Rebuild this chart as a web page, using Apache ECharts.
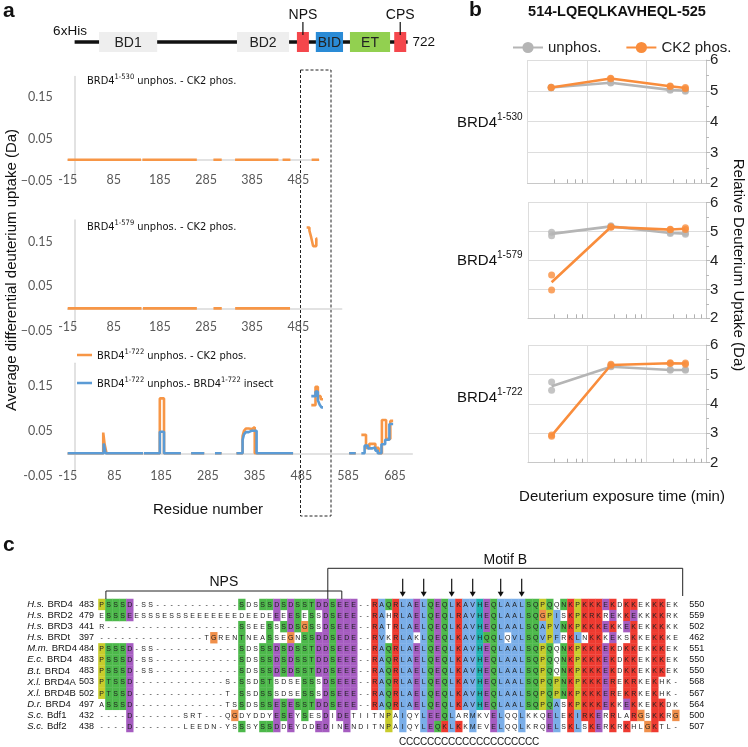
<!DOCTYPE html>
<html>
<head>
<meta charset="utf-8">
<title>BRD4 CK2 phosphorylation HDX</title>
<script src="https://cdn.jsdelivr.net/npm/echarts@6.0.0/dist/echarts.min.js"></script>
<style>
  html, body { margin: 0; padding: 0; background: #ffffff; }
  #main { width: 748px; height: 747px; }
</style>
</head>
<body>
<div id="main"></div>
<script>
// ---------------- data ----------------
// panel a, domain map (residue numbers)
var proteinLength = 722;
var domainNames = ['BD1', 'BD2', 'NPS', 'BID', 'ET', 'CPS'];
var domainStart = [53, 352, 482, 523, 597, 693];
var domainEnd = [179, 465, 508, 582, 684, 719];

// constructs
var constructs = ['1-530', '1-579', '1-722'];
var residueMax = [530, 579, 722];

// panel a: differential uptake, segments of [residue, Da] (held until next residue)
var a530Ck2 = [
  [[-15, 0], [144, 0]], [[147, 0], [265, 0]], [[301, 0], [319, 0]],
  [[348, 0], [442, 0]], [[451, 0], [468, 0]], [[514, 0], [530, 0]]
];
var a579Ck2 = [
  [[-15, 0], [145, 0]], [[148, 0], [265, 0]], [[301, 0], [319, 0]], [[348, 0], [467, 0]],
  [[503, 0.183], [509, 0.176], [513, 0.16], [517, 0.141], [524, 0.158], [526, 0.158]]
];
var a722Ck2 = [
  [[-15, 0], [61, 0.046], [64, 0.02], [68, 0], [146, 0]],
  [[148, 0], [182, 0.122], [191, 0], [227, 0]],
  [[249, 0], [277, 0]],
  [[300, 0], [314, 0]],
  [[346, 0], [359, 0.038], [362, 0.05], [366, 0.055], [372, 0.058], [376, 0.054], [379, 0.058], [385, 0], [467, 0]],
  [[506, 0.107], [515, 0.148], [520, 0.127], [526, 0.12], [531, 0.12]],
  [[587, 0], [601, 0]],
  [[613, 0.041], [623, 0.012], [630, 0.021], [643, 0.012], [650, 0], [657, 0.074], [666, 0.032], [675, 0.072], [681, 0.072]]
];
var a722Insect = [
  [[-15, 0], [62, 0.022], [66, 0], [146, 0]],
  [[148, 0], [182, 0.048], [191, 0], [227, 0]],
  [[249, 0], [277, 0]],
  [[300, 0], [314, 0]],
  [[346, 0], [359, 0.03], [362, 0.042], [366, 0.047], [372, 0.05], [378, 0.047], [381, 0.05], [389, 0], [467, 0]],
  [[506, 0.127], [515, 0.137], [520, 0.118], [524, 0.108], [528, 0.102], [531, 0.102]],
  [[587, 0], [601, 0]],
  [[613, 0], [620, 0.017], [627, 0.011], [637, 0.013], [643, 0.006], [648, 0], [656, 0.02], [664, 0.03], [673, 0.065], [681, 0.065]]
];

// panel b: 514-LQEQLKAVHEQL-525 uptake vs exposure time (min)
var times = [0.25, 2.5, 25, 45];
var b530Unphos = [5.11, 5.26, 5.03, 5.0];
var b530UnphosReps = [[5.10, 5.12], [5.25, 5.27], [5.02, 5.04], [4.99, 5.01]];
var b530Ck2 = [5.11, 5.40, 5.15, 5.09];
var b530Ck2Reps = [[5.10, 5.12], [5.39, 5.41], [5.14, 5.16], [5.07, 5.11]];
var b579Unphos = [4.92, 5.18, 4.95, 4.93];
var b579UnphosReps = [[4.98, 4.86], [5.17, 5.20], [4.93, 4.97], [4.91, 4.95]];
var b579Ck2 = [3.25, 5.16, 5.07, 5.10];
var b579Ck2Reps = [[3.50, 2.98], [5.15, 5.17], [5.06, 5.08], [5.07, 5.13]];
var b722Unphos = [4.60, 5.26, 5.15, 5.15];
var b722UnphosReps = [[4.74, 4.46], [5.26, 5.28], [5.14, 5.17], [5.14, 5.17]];
var b722Ck2 = [2.92, 5.32, 5.38, 5.37];
var b722Ck2Reps = [[2.90, 2.94], [5.31, 5.35], [5.37, 5.40], [5.35, 5.39]];

// panel c: alignment
var species = ['H.s.', 'H.s.', 'H.s.', 'H.s.', 'M.m.', 'E.c.', 'B.t.', 'X.l.', 'X.l.', 'D.r.', 'S.c.', 'S.c.'];
var proteins = ['BRD4', 'BRD2', 'BRD3', 'BRDt', 'BRD4', 'BRD4', 'BRD4', 'BRD4A', 'BRD4B', 'BRD4', 'Bdf1', 'Bdf2'];
var startNum = [483, 479, 441, 397, 484, 483, 483, 503, 502, 497, 432, 438];
var endNum = [550, 559, 502, 462, 551, 550, 550, 568, 567, 564, 500, 507];
var sequences = [
  'PSSSD-SS------------SDSSSDSDSSTDDSEEE--RAQRLAELQEQLKAVHEQLAALSQPQQNKPKKKEKDKKEKKKEK',
  'ESSSEESSSESSSEEEEEEEDEEDEEEESESSDSEEE--RAHRLAELQEQLRAVHEQLAALSQGPISKPKRKREKKEKKKKRK',
  'R-------------------SSEESSSDSGSSDSEEE--RATRLAELQEQLKAVHEQLAALSQAPVNKPKKKEKKEKEKKKKK',
  '---------------TGRENTNEASSEGNSSDDSEDE--RVKRLAKLQEQLKAVHQQLQVLSQVPFRKLNKKKEKSKKEKKKE',
  'PSSSD-SS------------SDSSSDSDSSTDDSEEE--RAQRLAELQEQLKAVHEQLAALSQPQQNKPKKKEKDKKEKKKEK',
  'PSSSD-SS------------SDSSSDSDSSTDDSEEE--RAQRLAELQEQLKAVHEQLAALSQPQQNKPKKKEKDKKEKKKEK',
  'PSSSD-SS------------SDSSSDSDSSTDDSEEE--RAQRLAELQEQLKAVHEQLAALSQPQQNKPKKKEKDKKEKKKEK',
  'PTSSD-------------S-SSDSTSDSESSSDSEEE--RAQRLAELQEQLKAVHEQLAALSQPQPNKPKKKEREKRKEKHK-',
  'PTSSD-------------T-SSDSSSDSESSSDSEEE--RAQRLAELQEQLKAVHEQLAALSQPQPNKPKKKEREKRKEKHK-',
  'ASSSD-------------TSSDSSSESESSTDDSEEE--RAQRLAELQEQLKAVHEQLAALSQPQASKPKKKEKKEKKEKKDK',
  '----D-------SRT---QGDYDDYESEYSESDIDETIITNPAIQYLEEQLARMKVELQQLKKQELEKIRKERRLARGSKKRG',
  '----D-------LEEDN-YSSSYSSDDEYDDEDINENDITNPAIQYLEQKLKKMEVELQQLKRQELSKLSKERKRKHLGKTL-'
];
var arrowCols = [43, 46, 50, 53, 57, 60];
var helixStart = 43;
var helixText = 'CCCCCCCCCCCCCCCCCCCC';
var bracketNames = ['NPS', 'Motif B'];
var bracketSpan = [[0.6, 34.3], [32.3, 83]];

// ---------------- styles ----------------
var FONT = '"Liberation Sans", Arial, sans-serif';
var NARROW = '"Liberation Sans Narrow", "DejaVu Sans Condensed", "Liberation Sans", sans-serif';
var EXCEL = 'Lato, "Liberation Sans", sans-serif';
var ORANGE_A = '#f79646', BLUE_A = '#5b9bd5';
var GREY_B = '#b5b5b5', ORANGE_B = '#f98d3c';
var domainFill = { BD1: '#eeeeee', BD2: '#eeeeee', NPS: '#f4474c', BID: '#2a8bd6', ET: '#92d050', CPS: '#f4474c' };
var labelAbove = { NPS: true, CPS: true };
var clustalPalette = {
  blue: '#7aaee8', red: '#ee3a30', green: '#4cb84a', magenta: '#a55cc0',
  orange: '#f08f4a', yellow: '#c8cc2c', cyan: '#1eb2ae', pink: '#f08080'
};
var bracketRise = [13.3, 36];
var bracketLabelGap = [8.5, 8.5];
var bracketLegs = [[5.3, 5.3], [5.3, 8.3]];

// ---------------- helpers ----------------
function segmentsToData(segs) {
  var out = [];
  segs.forEach(function (seg, i) {
    if (i > 0) out.push(['-', '-']);
    seg.forEach(function (p) { out.push(p); });
  });
  return out;
}
function pairs(xs, ys) {
  return xs.map(function (x, i) { return [x, ys[i]]; });
}
function repPoints(xs, reps) {
  var out = [];
  xs.forEach(function (x, i) { reps[i].forEach(function (v) { out.push([x, v]); }); });
  return out;
}
// Jalview ClustalX colouring
function clustalColours(seqs) {
  var n = seqs.length, len = seqs[0].length;
  var out = seqs.map(function () { return []; });
  for (var c = 0; c < len; c++) {
    var cnt = {};
    seqs.forEach(function (s) {
      var ch = s.charAt(c);
      if (ch !== '-') cnt[ch] = (cnt[ch] || 0) + 1;
    });
    var f = function (set) {
      var t = 0;
      for (var k = 0; k < set.length; k++) t += (cnt[set[k]] || 0);
      return t / n;
    };
    var any85 = function (set) {
      for (var k = 0; k < set.length; k++) if ((cnt[set[k]] || 0) / n > 0.85) return true;
      return false;
    };
    var hyd = f('WLVIMAFCHP'), kr = f('KR'), qe = f('QE'), ed = f('ED'), ts = f('TS');
    seqs.forEach(function (s, r) {
      var ch = s.charAt(c), col = null;
      if ('AILMFWV'.indexOf(ch) >= 0) { if (hyd > 0.6) col = 'blue'; }
      else if (ch === 'K' || ch === 'R') { if (kr > 0.6 || any85('KRQ')) col = 'red'; }
      else if (ch === 'N') { if (f('N') > 0.5 || any85('NY')) col = 'green'; }
      else if (ch === 'Q') { if (kr > 0.6 || qe > 0.5 || any85('QEKR')) col = 'green'; }
      else if (ch === 'S' || ch === 'T') { if (hyd > 0.6 || ts > 0.5 || any85('ST')) col = 'green'; }
      else if (ch === 'E') { if (kr > 0.6 || qe > 0.5 || ed > 0.5 || any85('EQD')) col = 'magenta'; }
      else if (ch === 'D') { if (kr > 0.6 || any85('KRQ') || ed > 0.5) col = 'magenta'; }
      else if (ch === 'C') { if (f('C') > 0.85) col = 'pink'; else if (hyd > 0.6) col = 'blue'; }
      else if (ch === 'G') col = 'orange';
      else if (ch === 'P') col = 'yellow';
      else if (ch === 'H' || ch === 'Y') { if (hyd > 0.6 || any85('WYACPQFHILMV')) col = 'cyan'; }
      out[r][c] = col;
    });
  }
  return out;
}

var colours = clustalColours(sequences);
var alignCells = [];
sequences.forEach(function (s, r) {
  for (var c = 0; c < s.length; c++) alignCells.push({ col: c, row: r, ch: s.charAt(c), colour: colours[r][c] });
});
var colIdx = sequences[0].split('').map(function (_, i) { return String(i); });
var rowIdx = sequences.map(function (_, i) { return String(i); });

var richSup = {
  n: { fontSize: 11, fontFamily: NARROW, color: '#111', fill: '#111', verticalAlign: 'bottom', lineHeight: 14 },
  s: { fontSize: 7.5, fontFamily: NARROW, color: '#111', fill: '#111', verticalAlign: 'top', lineHeight: 8 }
};
var richSupB = {
  n: { fontSize: 15, fontFamily: FONT, fill: '#111', verticalAlign: 'bottom', lineHeight: 18 },
  s: { fontSize: 10, fontFamily: FONT, fill: '#111', verticalAlign: 'top', lineHeight: 10 }
};

// ---------------- panel a axes ----------------
var aGrids = [
  { left: 67.7, top: 76.4, width: 251.3, height: 104.2 },
  { left: 67.7, top: 220, width: 274, height: 110.5 },
  { left: 67.7, top: 363.3, width: 344.6, height: 112.5 }
];
var aLabelMargin = [-1, -4, 0];
var aMinus = ['\u22120.', '\u22120.', '-0.'];

var grids = [], xAxes = [], yAxes = [], series = [];
aGrids.forEach(function (g, i) {
  g.outerBoundsMode = 'none';
  grids.push(g);
  xAxes.push({
    gridIndex: i, type: 'value', min: -15, max: residueMax[i],
    axisLine: { onZero: true, lineStyle: { color: '#d9d9d9', width: 1.5 } },
    axisTick: { show: false }, axisLabel: { show: false }, splitLine: { show: false }
  });
  xAxes.push({
    gridIndex: i, type: 'value', min: -15, max: residueMax[i], interval: 100, position: 'bottom',
    axisLine: { show: false, onZero: false }, axisTick: { show: false }, splitLine: { show: false },
    axisLabel: {
      show: true, showMaxLabel: false, verticalAlign: 'middle', margin: aLabelMargin[i],
      fontSize: 12.5, color: '#595959', fontFamily: EXCEL
    }
  });
  yAxes.push({
    gridIndex: i, type: 'value', min: -0.05, max: 0.2, interval: 0.1,
    axisLine: { show: true, lineStyle: { color: '#d9d9d9', width: 1.5 } },
    axisTick: { show: false }, splitLine: { show: false },
    axisLabel: {
      showMaxLabel: false, margin: 15, fontSize: 12.5, color: '#595959', fontFamily: EXCEL,
      formatter: function (v) {
        if (v > 0.19) return '';
        var s = Math.abs(v).toFixed(2).slice(2);
        return v < 0 ? aMinus[i] + s : '0.' + s;
      }
    }
  });
});

function aLine(name, gi, segs, color) {
  return {
    name: name, type: 'line', xAxisIndex: gi * 2 + 1, yAxisIndex: gi,
    data: segmentsToData(segs), step: 'end', symbol: 'none', z: 3, connectNulls: false,
    lineStyle: { color: color, width: 2.6 }, itemStyle: { color: color }
  };
}
series.push(aLine('a530', 0, a530Ck2, ORANGE_A));
series.push(aLine('a579', 1, a579Ck2, ORANGE_A));
series.push(aLine('ck2', 2, a722Ck2, ORANGE_A));
series.push(aLine('insect', 2, a722Insect, BLUE_A));

// ---------------- domain map ----------------
grids.push({ left: 67.7, top: 32, width: 339.9, height: 20, outerBoundsMode: 'none' }); // grid 3
xAxes.push({ gridIndex: 3, type: 'value', min: -15, max: proteinLength, show: false });
yAxes.push({ gridIndex: 3, type: 'value', min: 0, max: 1, show: false });
series.push({
  type: 'line', xAxisIndex: 6, yAxisIndex: 3, symbol: 'none', z: 1, silent: true,
  data: [[0, 0.5], [proteinLength, 0.5]],
  lineStyle: { color: '#111', width: 3.5 },
  endLabel: { show: true, formatter: String(proteinLength), fontSize: 13.5, fontFamily: FONT, color: '#111', distance: 5 }
});
series.push({
  type: 'custom', xAxisIndex: 6, yAxisIndex: 3, z: 3, silent: true,
  data: domainNames.map(function (_, i) { return [domainStart[i], domainEnd[i]]; }),
  renderItem: function (params, api) {
    var i = params.dataIndex, name = domainNames[i];
    var p0 = api.coord([api.value(0), 0.5]);
    var p1 = api.coord([api.value(1), 0.5]);
    var h = api.size([0, 1])[1];
    var top = p0[1] - h / 2, cx = (p0[0] + p1[0]) / 2;
    var kids = [{ type: 'rect', shape: { x: p0[0], y: top, width: p1[0] - p0[0], height: h }, style: { fill: domainFill[name] } }];
    if (labelAbove[name]) {
      kids.push({ type: 'line', shape: { x1: cx, y1: top - 10, x2: cx, y2: top + 3 }, style: { stroke: '#111', lineWidth: 1.2 } });
      kids.push({ type: 'text', style: { text: name, x: cx, y: top - 17, align: 'center', verticalAlign: 'middle', fontSize: 14, fontFamily: FONT, fill: '#111' } });
    } else {
      kids.push({ type: 'text', style: { text: name, x: cx, y: p0[1] + 1, align: 'center', verticalAlign: 'middle', fontSize: 14, fontFamily: FONT, fill: '#222' } });
    }
    return { type: 'group', children: kids };
  }
});

// ---------------- panel b ----------------
var bGrids = [
  { left: 527.5, top: 60, width: 178.5, height: 123.3 },
  { left: 528, top: 202.7, width: 178, height: 115.6 },
  { left: 528, top: 345, width: 178, height: 117.7 }
];
var bMeans = [[b530Unphos, b530Ck2], [b579Unphos, b579Ck2], [b722Unphos, b722Ck2]];
var bReps = [[b530UnphosReps, b530Ck2Reps], [b579UnphosReps, b579Ck2Reps], [b722UnphosReps, b722Ck2Reps]];
bGrids.forEach(function (g, k) {
  var gi = 4 + k;
  g.outerBoundsMode = 'none';
  grids.push(g);
  xAxes.push({
    gridIndex: gi, type: 'log', logBase: 10, min: 0.1, max: 100,
    axisLine: { show: true, lineStyle: { color: '#c8c8c8' } },
    axisTick: { show: false, inside: true },
    minorTick: { show: true, splitNumber: 5, length: 4, lineStyle: { color: '#b0b0b0' } },
    axisLabel: { show: false },
    splitLine: { show: true, lineStyle: { color: '#dddddd' } }
  });
  yAxes.push({
    gridIndex: gi, type: 'value', position: 'right', min: 2, max: 6, interval: 1,
    axisLine: { show: true, lineStyle: { color: '#c8c8c8' } },
    axisTick: { show: true, length: 4, lineStyle: { color: '#b8b8b8' } },
    minorTick: { show: true, splitNumber: 2, length: 3, lineStyle: { color: '#b8b8b8' } },
    axisLabel: { fontSize: 15, color: '#222', margin: 4, fontFamily: FONT },
    splitLine: { show: true, lineStyle: { color: '#dddddd' } }
  });
  var xi = 7 + k, yi = 4 + k;
  [['unphos.', GREY_B], ['CK2 phos.', ORANGE_B]].forEach(function (s, j) {
    series.push({
      name: s[0], type: 'line', xAxisIndex: xi, yAxisIndex: yi, z: 3 + j,
      data: pairs(times, bMeans[k][j]), symbol: 'circle', symbolSize: 11, showSymbol: false,
      lineStyle: { color: s[1], width: 2.6 }, itemStyle: { color: s[1] }
    });
    series.push({
      name: s[0], type: 'scatter', xAxisIndex: xi, yAxisIndex: yi, z: 3 + j,
      data: repPoints(times, bReps[k][j]), symbol: 'circle', symbolSize: 7,
      itemStyle: { color: s[1] }
    });
  });
});

// ---------------- panel c ----------------
grids.push({ left: 98.2, top: 598.75, width: 581, height: 133.2, outerBoundsMode: 'none' }); // grid 7
xAxes.push({ gridIndex: 7, type: 'category', data: colIdx, show: false });
var hideAx = { axisLine: { show: false }, axisTick: { show: false }, splitLine: { show: false } };
yAxes.push(Object.assign({
  gridIndex: 7, type: 'category', data: rowIdx, inverse: true, position: 'left',
  axisLabel: {
    align: 'left', margin: 71, interval: 0,
    formatter: function (v, i) { return '{sp|' + species[i] + '} {pn|' + proteins[i] + '}'; },
    rich: {
      sp: { fontSize: 9.5, fontStyle: 'italic', fontFamily: FONT, color: '#111' },
      pn: { fontSize: 9.5, fontFamily: FONT, color: '#111' }
    }
  }
}, hideAx));
yAxes.push(Object.assign({
  gridIndex: 7, type: 'category', data: rowIdx, inverse: true, position: 'left',
  axisLabel: {
    align: 'left', margin: 19.2, interval: 0, fontSize: 9, fontFamily: FONT, color: '#111',
    formatter: function (v, i) { return String(startNum[i]); }
  }
}, hideAx));
yAxes.push(Object.assign({
  gridIndex: 7, type: 'category', data: rowIdx, inverse: true, position: 'right',
  axisLabel: {
    align: 'left', margin: 10, interval: 0, fontSize: 9, fontFamily: FONT, color: '#111',
    formatter: function (v, i) { return String(endNum[i]); }
  }
}, hideAx));

series.push({
  type: 'custom', xAxisIndex: 10, yAxisIndex: 7, silent: true,
  data: alignCells.map(function (c) { return [c.col, c.row]; }),
  renderItem: function (params, api) {
    var cell = alignCells[params.dataIndex];
    var p = api.coord([api.value(0), api.value(1)]);
    var sz = api.size([1, 1]);
    var kids = [];
    if (cell.colour) {
      kids.push({ type: 'rect', shape: { x: p[0] - sz[0] / 2, y: p[1] - sz[1] / 2, width: sz[0] + 0.3, height: sz[1] + 0.3 }, style: { fill: clustalPalette[cell.colour] } });
    }
    kids.push({ type: 'text', style: { text: cell.ch, x: p[0], y: p[1] + 0.5, align: 'center', verticalAlign: 'middle', fontSize: 7, fontFamily: FONT, fill: '#222' } });
    return { type: 'group', children: kids };
  }
});
// arrows over motif B
series.push({
  type: 'custom', xAxisIndex: 10, yAxisIndex: 7, silent: true,
  data: arrowCols.map(function (c) { return [c, 0]; }),
  renderItem: function (params, api) {
    var p = api.coord([api.value(0), 0]);
    var x = p[0], y = p[1];
    return {
      type: 'group', children: [
        { type: 'line', shape: { x1: x, y1: y - 25.5, x2: x, y2: y - 11 }, style: { stroke: '#111', lineWidth: 1.2 } },
        { type: 'polygon', shape: { points: [[x - 3, y - 12.5], [x + 3, y - 12.5], [x, y - 7.5]] }, style: { fill: '#111' } }
      ]
    };
  }
});
// helix annotation
series.push({
  type: 'custom', xAxisIndex: 10, yAxisIndex: 7, silent: true,
  data: helixText.split('').map(function (_, i) { return [helixStart + i, sequences.length - 1]; }),
  renderItem: function (params, api) {
    var p = api.coord([api.value(0), api.value(1)]);
    return { type: 'text', style: { text: helixText.charAt(params.dataIndex), x: p[0], y: p[1] + 15.5, align: 'center', verticalAlign: 'middle', fontSize: 10, fontFamily: FONT, fill: '#111' } };
  }
});
// NPS / Motif B brackets
series.push({
  type: 'custom', xAxisIndex: 10, yAxisIndex: 7, silent: true,
  data: bracketSpan.map(function () { return [0, 0]; }),
  renderItem: function (params, api) {
    var i = params.dataIndex;
    var p0 = api.coord([0, 0]);
    var w = api.size([1, 1])[0];
    var xa = p0[0] + bracketSpan[i][0] * w, xb = p0[0] + bracketSpan[i][1] * w;
    var yTop = p0[1] - bracketRise[i];
    return {
      type: 'group', children: [
        { type: 'polyline', shape: { points: [[xa, p0[1] - bracketLegs[i][0]], [xa, yTop], [xb, yTop], [xb, p0[1] - bracketLegs[i][1]]] }, style: { stroke: '#222', lineWidth: 1, fill: null } },
        { type: 'text', style: { text: bracketNames[i], x: (xa + xb) / 2, y: yTop - bracketLabelGap[i], align: 'center', verticalAlign: 'middle', fontSize: 14, fontFamily: FONT, fill: '#111' } }
      ]
    };
  }
});

// ---------------- graphic texts ----------------
var graphic = [
  { type: 'text', x: 3, y: 1, style: { text: 'a', fontSize: 21, fontWeight: 'bold', fontFamily: FONT, fill: '#111' } },
  { type: 'text', x: 469, y: 0, style: { text: 'b', fontSize: 21, fontWeight: 'bold', fontFamily: FONT, fill: '#111' } },
  { type: 'text', x: 3, y: 535, style: { text: 'c', fontSize: 21, fontWeight: 'bold', fontFamily: FONT, fill: '#111' } },
  { type: 'text', x: 70, y: 31, style: { text: '6xHis', align: 'center', verticalAlign: 'middle', fontSize: 13.5, fontFamily: FONT, fill: '#111' } },
  { type: 'text', x: 617, y: 12, style: { text: '514-LQEQLKAVHEQL-525', align: 'center', verticalAlign: 'middle', fontSize: 14.5, fontWeight: 'bold', fontFamily: FONT, fill: '#111' } },
  { type: 'text', x: 12, y: 270, rotation: Math.PI / 2, style: { text: 'Average differential deuterium uptake (Da)', align: 'center', verticalAlign: 'middle', fontSize: 15, fontFamily: FONT, fill: '#111' } },
  { type: 'text', x: 208, y: 510, style: { text: 'Residue number', align: 'center', verticalAlign: 'middle', fontSize: 15, fontFamily: FONT, fill: '#111' } },
  { type: 'text', x: 738, y: 265, rotation: -Math.PI / 2, style: { text: 'Relative Deuterium Uptake (Da)', align: 'center', verticalAlign: 'middle', fontSize: 15, fontFamily: FONT, fill: '#111' } },
  { type: 'text', x: 622, y: 497, style: { text: 'Deuterium exposure time (min)', align: 'center', verticalAlign: 'middle', fontSize: 15, fontFamily: FONT, fill: '#111' } },
  { type: 'rect', shape: { x: 300.5, y: 70, width: 30.5, height: 446 }, style: { fill: 'none', stroke: '#222', lineWidth: 1, lineDash: [3, 2] } }
];
var aTitleY = [80, 226];
[0, 1].forEach(function (k) {
  graphic.push({ type: 'text', x: 87, y: aTitleY[k], style: { text: '{n|BRD4}{s|' + constructs[k] + '}{n| unphos. - CK2 phos.}', verticalAlign: 'middle', rich: richSup } });
});
var bLabelY = [121.7, 259.3, 396.7];
constructs.forEach(function (c, k) {
  graphic.push({ type: 'text', x: 457, y: bLabelY[k], style: { text: '{n|BRD4}{s|' + c + '}', verticalAlign: 'middle', rich: richSupB } });
});

// ---------------- chart ----------------
var myChart = echarts.init(document.getElementById('main'));
myChart.setOption({
  animation: false,
  backgroundColor: '#ffffff',
  grid: grids,
  xAxis: xAxes,
  yAxis: yAxes,
  legend: [
    {
      data: ['unphos.', 'CK2 phos.'], left: 507, top: 35, itemWidth: 30, itemHeight: 14, itemGap: 24,
      textStyle: { fontSize: 15, color: '#222', fontFamily: FONT }, selectedMode: false
    },
    {
      data: ['ck2', 'insect'], orient: 'vertical', left: 72, top: 343, icon: 'rect',
      itemWidth: 15, itemHeight: 2.5, itemGap: 14, selectedMode: false,
      formatter: function (name) {
        return name === 'ck2'
          ? '{n|BRD4}{s|1-722}{n| unphos. - CK2 phos.}'
          : '{n|BRD4}{s|1-722}{n| unphos.- BRD4}{s|1-722}{n| insect}';
      },
      textStyle: { rich: richSup }
    }
  ],
  graphic: graphic,
  series: series
});
</script>
</body>
</html>
